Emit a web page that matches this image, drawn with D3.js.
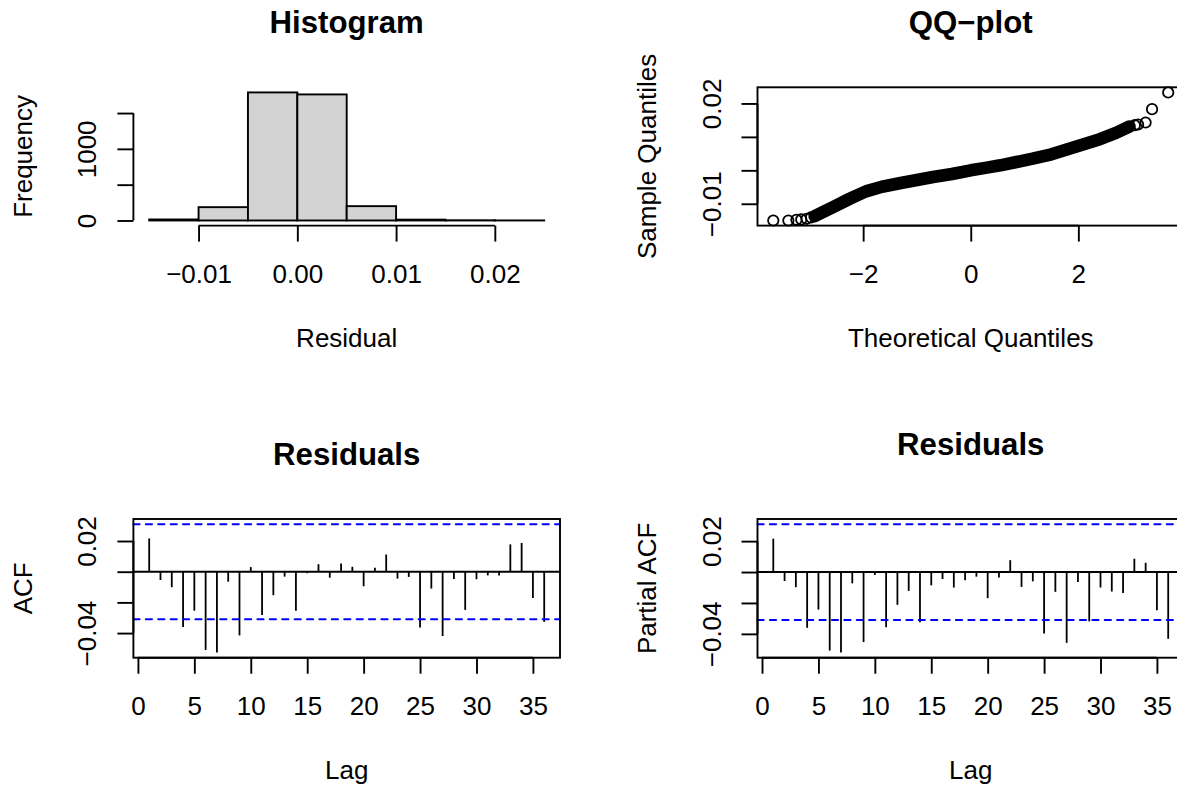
<!DOCTYPE html>
<html>
<head>
<meta charset="utf-8">
<script src="https://cdn.jsdelivr.net/npm/d3@7"></script>
<style>
  body { margin: 0; background: #fff; }
</style>
</head>
<body>
<div id="chart"></div>
<script>
// ---------- data ----------//
const histBreaks = [-0.015, -0.01, -0.005, 0, 0.005, 0.01, 0.015, 0.02, 0.025];
const histCounts = [14, 186, 1788, 1760, 200, 12, 3, 1];
const histXTicks = [-0.01, 0, 0.01, 0.02];
const histXLabels = ["\u22120.01", "0.00", "0.01", "0.02"];
const histYTicks = [0, 500, 1000, 1500];
const histYLabels = ["0", "", "1000", ""];

// dense part of the QQ cloud (points overplot into a solid band)
const qqBandTheo   = [-2.90, -2.75, -2.55, -2.25, -1.95, -1.65, -1.30, -1.00, -0.70, -0.35, 0.00, 0.30, 0.55, 0.85, 1.15, 1.50, 1.80, 2.10, 2.40, 2.70, 2.95];
const qqBandSample = [-0.0137, -0.0125, -0.0109, -0.0085, -0.0063, -0.0049, -0.0038, -0.0029, -0.0020, -0.0011, 0.0000, 0.0008, 0.0015, 0.0025, 0.0035, 0.0048, 0.0063, 0.0078, 0.0093, 0.0112, 0.0131];
// separate points in the tails
const qqTailTheo   = [-3.67, -3.39, -3.24, -3.15, -3.05, -2.97, 3.05, 3.11, 3.25, 3.37, 3.67];
const qqTailSample = [-0.0150, -0.0150, -0.0148, -0.0147, -0.0145, -0.0141, 0.0135, 0.0137, 0.0143, 0.0183, 0.0233];
const qqXTicks = [-2, 0, 2];
const qqXLabels = ["\u22122", "0", "2"];
const qqYTicks = [0.02, 0.01, 0, -0.01];
const qqYLabels = ["0.02", "", "", "\u22120.01"];

const lags = [1, 2, 3, 4, 5, 6, 7, 8, 9, 10, 11, 12, 13, 14, 15, 16, 17, 18, 19, 20, 21, 22, 23, 24, 25, 26, 27, 28, 29, 30, 31, 32, 33, 34, 35, 36];
const acfValues = [0.0217, -0.0054, -0.0101, -0.0361, -0.0254, -0.0510, -0.0527, -0.0065, -0.0415, 0.0030,
                   -0.0282, -0.0153, -0.0032, -0.0254, -0.0010, 0.0049, -0.0039, 0.0054, 0.0032, -0.0095,
                   0.0026, 0.0112, -0.0045, -0.0034, -0.0363, -0.0110, -0.0419, -0.0047, -0.0249, -0.0049,
                   -0.0024, -0.0024, 0.0178, 0.0187, -0.0172, -0.0327];
const pacfValues = [0.0216, -0.0058, -0.0098, -0.0361, -0.0243, -0.0508, -0.0521, -0.0073, -0.0453, -0.0019,
                    -0.0357, -0.0212, -0.0122, -0.0325, -0.0086, -0.0045, -0.0100, -0.0053, -0.0030, -0.0169,
                    -0.0036, 0.0077, -0.0096, -0.0060, -0.0398, -0.0128, -0.0458, -0.0064, -0.0319, -0.0100,
                    -0.0126, -0.0135, 0.0086, 0.0060, -0.0248, -0.0432];
const ciLimit = 0.031;
const lagTicks = [0, 5, 10, 15, 20, 25, 30, 35];
const lagLabels = ["0", "5", "10", "15", "20", "25", "30", "35"];
const acfYTicks = [0.02, 0, -0.02, -0.04];
const acfYLabels = ["0.02", "", "", "\u22120.04"];

// ---------- layout ----------//
const width = 1177, height = 787;
const FONT = '"Liberation Sans", Arial, Helvetica, sans-serif';
const LW = 1.9;
const topRow = {top: 87.3, bottom: 225.6};
const botRow = {top: 519, bottom: 657.7};
const leftCol = {left: 133.4, right: 560};
const rightCol = {left: 757.5, right: 1184};

// R style 4% padding of the data range
const pad = (lo, hi) => [lo - 0.04 * (hi - lo), hi + 0.04 * (hi - lo)];

const svg = d3.create('svg')
  .attr('width', width)
  .attr('height', height)
  .style('background', '#fff');

//----- helpers -----//
function hText(x, y, str, size, weight) {
  svg.append('text')
    .attr('x', x).attr('y', y)
    .attr('text-anchor', 'middle')
    .attr('font-family', FONT)
    .attr('font-size', size)
    .attr('font-weight', weight || 'normal')
    .attr('fill', 'black')
    .text(str);
}
function vText(x, y, str, size) {
  svg.append('text')
    .attr('transform', `translate(${x},${y}) rotate(-90)`)
    .attr('text-anchor', 'middle')
    .attr('font-family', FONT)
    .attr('font-size', size)
    .attr('fill', 'black')
    .text(str);
}
function bottomAxis(x, ticks, labels, yPos) {
  const g = svg.append('g')
    .attr('transform', `translate(0, ${yPos})`)
    .call(d3.axisBottom(x).tickValues(ticks).tickFormat((d, i) => labels[i]).tickSize(16).tickPadding(23.3));
  g.select('.domain').remove();
  g.attr('font-family', FONT).attr('font-size', 26);
  g.selectAll('.tick line').attr('stroke', 'black').attr('stroke-width', LW);
  g.selectAll('.tick text').attr('fill', 'black');
  g.append('line')
    .attr('x1', x(ticks[0])).attr('x2', x(ticks[ticks.length - 1]))
    .attr('stroke', 'black').attr('stroke-width', LW);
}
function leftAxis(y, ticks, labels, xPos) {
  const g = svg.append('g')
    .attr('transform', `translate(${xPos}, 0)`)
    .call(d3.axisLeft(y).tickValues(ticks).tickFormat((d, i) => labels[i]).tickSize(16));
  g.select('.domain').remove();
  g.attr('font-family', FONT).attr('font-size', 26);
  g.selectAll('.tick line').attr('stroke', 'black').attr('stroke-width', LW);
  g.selectAll('.tick text')
    .attr('x', null).attr('dy', null)
    .attr('text-anchor', 'middle')
    .attr('fill', 'black')
    .attr('transform', 'translate(-37, 0) rotate(-90)');
  g.append('line')
    .attr('y1', y(ticks[0])).attr('y2', y(ticks[ticks.length - 1]))
    .attr('stroke', 'black').attr('stroke-width', LW);
}
function box(col, row) {
  svg.append('rect')
    .attr('x', col.left).attr('y', row.top)
    .attr('width', col.right - col.left).attr('height', row.bottom - row.top)
    .attr('fill', 'none').attr('stroke', 'black').attr('stroke-width', LW);
}

//----- 1. Histogram -----//
const hx = d3.scaleLinear()
  .domain(pad(histBreaks[0], histBreaks[histBreaks.length - 1]))
  .range([leftCol.left, leftCol.right]);
const hy = d3.scaleLinear()
  .domain(pad(0, d3.max(histCounts)))
  .range([topRow.bottom, topRow.top]);

svg.append('g')
  .selectAll('rect')
  .data(histCounts)
  .join('rect')
  .attr('x', (d, i) => hx(histBreaks[i]))
  .attr('width', (d, i) => hx(histBreaks[i + 1]) - hx(histBreaks[i]))
  .attr('y', d => hy(d))
  .attr('height', d => hy(0) - hy(d))
  .attr('fill', '#D3D3D3')
  .attr('stroke', 'black')
  .attr('stroke-width', LW);

bottomAxis(hx, histXTicks, histXLabels, topRow.bottom);
leftAxis(hy, histYTicks, histYLabels, leftCol.left);
hText((leftCol.left + leftCol.right) / 2, 33.3, 'Histogram', 31.2, 'bold');
hText((leftCol.left + leftCol.right) / 2, 347, 'Residual', 26);
vText(31.9, (topRow.top + topRow.bottom) / 2, 'Frequency', 26);

//----- 2. QQ-plot -----//
const qx = d3.scaleLinear()
  .domain(pad(d3.min(qqTailTheo), d3.max(qqTailTheo)))
  .range([rightCol.left, rightCol.right]);
const qy = d3.scaleLinear()
  .domain(pad(d3.min(qqTailSample), d3.max(qqTailSample)))
  .range([topRow.bottom, topRow.top]);

const band = d3.line()
  .x((d, i) => qx(qqBandTheo[i]))
  .y(d => qy(d));
svg.append('path')
  .attr('d', band(qqBandSample))
  .attr('fill', 'none')
  .attr('stroke', 'black')
  .attr('stroke-width', 12.6)
  .attr('stroke-linecap', 'round')
  .attr('stroke-linejoin', 'round');

svg.append('g')
  .selectAll('circle')
  .data(qqTailSample)
  .join('circle')
  .attr('cx', (d, i) => qx(qqTailTheo[i]))
  .attr('cy', d => qy(d))
  .attr('r', 5.2)
  .attr('fill', 'none')
  .attr('stroke', 'black')
  .attr('stroke-width', 1.8);

box(rightCol, topRow);
bottomAxis(qx, qqXTicks, qqXLabels, topRow.bottom);
leftAxis(qy, qqYTicks, qqYLabels, rightCol.left);
hText((rightCol.left + rightCol.right) / 2, 33, 'QQ\u2212plot', 31.2, 'bold');
hText((rightCol.left + rightCol.right) / 2, 347, 'Theoretical Quantiles', 26);
vText(655.5, (topRow.top + topRow.bottom) / 2, 'Sample Quantiles', 26);

//----- 3. ACF / PACF -----//
function corrPanel(values, col, titleY, ylab) {
  const x = d3.scaleLinear()
    .domain(pad(lags[0], lags[lags.length - 1]))
    .range([col.left, col.right]);
  const y = d3.scaleLinear()
    .domain(pad(d3.min(values.concat([-ciLimit])), d3.max(values.concat([ciLimit]))))
    .range([botRow.bottom, botRow.top]);

  svg.append('g')
    .selectAll('line')
    .data(values)
    .join('line')
    .attr('x1', (d, i) => x(lags[i])).attr('x2', (d, i) => x(lags[i]))
    .attr('y1', y(0)).attr('y2', d => y(d))
    .attr('stroke', 'black')
    .attr('stroke-width', 1.8);

  // zero line
  svg.append('line')
    .attr('x1', col.left).attr('x2', col.right)
    .attr('y1', y(0)).attr('y2', y(0))
    .attr('stroke', 'black').attr('stroke-width', LW);

  // confidence bounds
  svg.append('g')
    .selectAll('line')
    .data([ciLimit, -ciLimit])
    .join('line')
    .attr('x1', col.left).attr('x2', col.right)
    .attr('y1', d => y(d)).attr('y2', d => y(d))
    .attr('stroke', '#0000FF')
    .attr('stroke-width', 2)
    .attr('stroke-dasharray', '6.2,6.2')
    .attr('stroke-linecap', 'round');

  box(col, botRow);
  bottomAxis(x, lagTicks, lagLabels, botRow.bottom);
  leftAxis(y, acfYTicks, acfYLabels, col.left);
  hText((col.left + col.right) / 2, titleY, 'Residuals', 31.2, 'bold');
  hText((col.left + col.right) / 2, 778.5, 'Lag', 26);
  vText(col.left - 101.3, (botRow.top + botRow.bottom) / 2, ylab, 26);
}

corrPanel(acfValues, leftCol, 465, 'ACF');
corrPanel(pacfValues, rightCol, 455, 'Partial ACF');

document.getElementById("chart").appendChild(svg.node());
</script>
</body>
</html>
